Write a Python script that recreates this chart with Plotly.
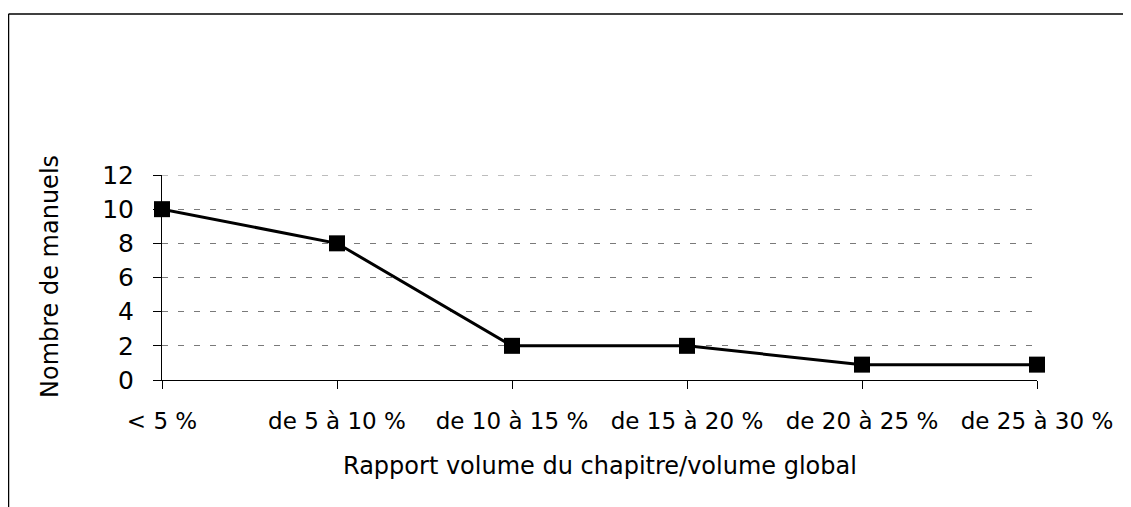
import plotly.graph_objects as go

categories = ["< 5 %", "de 5 à 10 %", "de 10 à 15 %", "de 15 à 20 %", "de 20 à 25 %", "de 25 à 30 %"]
values = [10, 8, 2, 2, 0.9, 0.9]
y_ticks = [0, 2, 4, 6, 8, 10, 12]
x_title = "Rapport volume du chapitre/volume global"
y_title = "Nombre de manuels"

# page body has an 8px default margin, so the figure is shifted by 8px
OFF = 8
W, H = 1131 - OFF, 507 - OFF
L, R, T, B = 162 - OFF, 94, 175 - OFF, 127
pw, ph = W - L - R, H - T - B

def px_x(p):
    return (p - OFF - L) / pw

def px_y(p):
    return (H - B - (p - OFF)) / ph

xs = list(range(len(categories)))
GRID_DASH = "6px,10px"
GRID_COLOR = "#7a7a7a"

fig = go.Figure()
fig.add_trace(go.Scatter(
    x=xs, y=values, mode="lines+markers",
    line=dict(color="black", width=3),
    marker=dict(symbol="square", size=16, color="black"),
    cliponaxis=False, showlegend=False,
))

fig.update_layout(
    width=W, height=H,
    margin=dict(l=L, r=R, t=T, b=B),
    paper_bgcolor="white", plot_bgcolor="white",
    font=dict(family="DejaVu Sans", color="black"),
    xaxis=dict(
        range=[0, len(categories) - 1], tickvals=xs, ticktext=categories,
        ticks="outside", ticklen=8, tickcolor="black", tickwidth=1,
        showline=True, linecolor="black", linewidth=1,
        showgrid=False, zeroline=False,
        tickfont=dict(size=23), ticklabelstandoff=12,
    ),
    yaxis=dict(
        range=[0, 12], tickvals=y_ticks,
        ticks="outside", ticklen=8, tickcolor="black", tickwidth=1,
        showline=True, linecolor="black", linewidth=1,
        showgrid=True, gridcolor=GRID_COLOR, gridwidth=1, griddash=GRID_DASH,
        zeroline=False,
        tickfont=dict(size=25), ticklabelstandoff=14,
    ),
    shapes=[
        # top gridline (plotly hides the one on the range edge)
        dict(type="line", xref="paper", yref="y",
             x0=0, x1=1, y0=max(y_ticks), y1=max(y_ticks),
             line=dict(color=GRID_COLOR, width=1, dash=GRID_DASH), layer="below"),
        dict(type="line", xref="paper", yref="paper",
             x0=px_x(8.5), x1=px_x(1140), y0=px_y(14), y1=px_y(14),
             line=dict(color="black", width=1.5)),
        dict(type="line", xref="paper", yref="paper",
             x0=px_x(8.5), x1=px_x(8.5), y0=px_y(14), y1=px_y(520),
             line=dict(color="black", width=1.5)),
    ],
    annotations=[
        dict(text=x_title, xref="paper", yref="paper",
             x=px_x(600), y=px_y(466), xanchor="center", yanchor="middle",
             showarrow=False, font=dict(size=24)),
        dict(text=y_title, xref="paper", yref="paper",
             x=px_x(50), y=px_y(277), xanchor="center", yanchor="middle",
             textangle=-90, showarrow=False, font=dict(size=24)),
    ],
)

fig.write_html("out.html")
